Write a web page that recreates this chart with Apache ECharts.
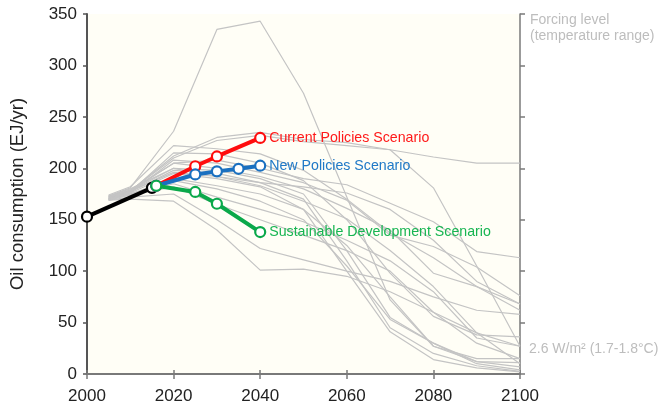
<!DOCTYPE html>
<html>
<head>
<meta charset="utf-8">
<script src="https://cdn.jsdelivr.net/npm/echarts@6/dist/echarts.min.js"></script>
<style>
  html, body { margin: 0; padding: 0; background: #ffffff; }
  #chart { width: 661px; height: 410px; }
</style>
</head>
<body>
<div id="chart"></div>
<script>
// Years at which the IAM pathways report oil consumption
const pathwayYears = [2005, 2010, 2020, 2030, 2040, 2050, 2060, 2070, 2080, 2090, 2100];

// 2.6 W/m² pathways (EJ/yr)
const pathway01 = [173, 181, 236, 335, 343, 273, 172, 72, 27, 12, 7];
const pathway02 = [170, 178, 212, 230, 235, 228, 225, 218, 211, 205, 205];
const pathway03 = [171, 178, 210, 227, 232, 226, 222, 218, 181, 105, 27];
const pathway04 = [174, 182, 222, 219, 214, 198, 170, 137, 113, 85, 62];
const pathway05 = [170, 177, 215, 214, 205, 188, 150, 98, 56, 38, 36];
const pathway06 = [172, 179, 205, 208, 200, 190, 184, 166, 148, 119, 113];
const pathway07 = [170, 176, 208, 205, 196, 186, 169, 135, 124, 104, 76];
const pathway08 = [173, 180, 200, 198, 190, 175, 120, 55, 30, 10, 4];
const pathway09 = [171, 177, 198, 195, 186, 170, 110, 45, 20, 8, 2.5];
const pathway10 = [170, 176, 195, 190, 182, 160, 100, 41, 14, 6, 2];
const pathway11 = [172, 178, 205, 200, 192, 180, 161, 140, 98, 85, 68];
const pathway12 = [173, 178, 200, 192, 183, 168, 151, 120, 85, 40, 10];
const pathway13 = [170, 175, 190, 183, 175, 160, 125, 75, 27, 15, 15];
const pathway14 = [171, 175, 188, 180, 168, 150, 105, 53, 30, 12, 11];
const pathway15 = [169, 174, 185, 172, 160, 148, 130, 110, 80, 35, 27];
const pathway16 = [170, 174, 182, 165, 150, 135, 120, 100, 60, 30, 15];
const pathway17 = [169, 172, 175, 150, 122, 111, 100, 90, 75, 62, 58];
const pathway18 = [169, 170, 168, 140, 101, 102, 95, 80, 60, 40, 27];
const pathway19 = [172, 178, 196, 192, 186, 182, 176, 160, 130, 90, 68];

const pathways = [
  pathway01, pathway02, pathway03, pathway04, pathway05, pathway06, pathway07,
  pathway08, pathway09, pathway10, pathway11, pathway12, pathway13, pathway14,
  pathway15, pathway16, pathway17, pathway18, pathway19
];

// Historical consumption and IEA WEO scenarios
const historyYears = [2000, 2015];
const historyValues = [153, 181];

const currentYears = [2016, 2025, 2030, 2040];
const currentValues = [183, 202, 211.5, 229.5];

const newYears = [2016, 2025, 2030, 2035, 2040];
const newValues = [183, 194, 197, 199.5, 202.5];

const sustainableYears = [2016, 2025, 2030, 2040];
const sustainableValues = [183, 177, 165.5, 138];

const xTicks = [2000, 2020, 2040, 2060, 2080, 2100];
const yTicks = [0, 50, 100, 150, 200, 250, 300, 350];

const FONT = '"Liberation Sans", Arial, sans-serif';
const zip = (xs, ys) => xs.map((x, i) => [x, ys[i]]);

const grayLine = p => ({
  type: 'line',
  data: zip(pathwayYears, p),
  symbol: 'none',
  silent: true,
  z: 1,
  lineStyle: { color: '#c4c4c4', width: 1.2 }
});

const scenario = (name, xs, ys, color, textColor, z) => ({
  type: 'line',
  name: name,
  data: zip(xs, ys),
  symbol: 'circle',
  symbolSize: 10,
  z: z,
  itemStyle: { color: '#ffffff', borderColor: color, borderWidth: 2.2 },
  lineStyle: { color: color, width: 4 },
  endLabel: name ? {
    show: true,
    formatter: name,
    color: textColor,
    fontSize: 14.2,
    fontFamily: FONT,
    distance: 9
  } : undefined
});

const chart = echarts.init(document.getElementById('chart'), null, { renderer: 'canvas' });

const axisColor = '#7a7a7a';

chart.setOption({
  animation: false,
  backgroundColor: '#ffffff',
  grid: {
    left: 86.7, right: 141, top: 14, bottom: 36,
    show: true, backgroundColor: '#fffef6', borderWidth: 0
  },
  xAxis: [
    {
      type: 'value', min: 2000, max: 2100, interval: 20,
      position: 'bottom',
      axisLine: { show: true, lineStyle: { color: axisColor, width: 2 } },
      axisTick: { show: true, length: 5, lineStyle: { color: axisColor, width: 1.5 } },
      axisLabel: {
        color: '#222', fontSize: 17, fontFamily: FONT, margin: 14,
        formatter: v => (xTicks.includes(v) ? String(v) : '')
      },
      splitLine: { show: false }
    },
    {
      type: 'value', min: 2000, max: 2100, interval: 20,
      position: 'top',
      axisLine: { show: true, lineStyle: { color: axisColor, width: 1.5 } },
      axisTick: { show: true, length: 4, lineStyle: { color: axisColor, width: 1.5 } },
      axisLabel: { show: false },
      splitLine: { show: false }
    }
  ],
  yAxis: [
    {
      type: 'value', min: 0, max: 350, interval: 50,
      position: 'left',
      name: 'Oil consumption (EJ/yr)',
      nameLocation: 'middle',
      nameGap: 60,
      nameTextStyle: { color: '#222', fontSize: 18.5, fontFamily: FONT },
      axisLine: { show: true, lineStyle: { color: '#555', width: 2 } },
      axisTick: { show: true, length: 4, lineStyle: { color: '#555', width: 1.5 } },
      axisLabel: {
        color: '#222', fontSize: 17, fontFamily: FONT, margin: 10,
        formatter: v => (yTicks.includes(v) ? String(v) : '')
      },
      splitLine: { show: false }
    },
    {
      type: 'value', min: 0, max: 350, interval: 50,
      position: 'right',
      axisLine: { show: true, lineStyle: { color: axisColor, width: 1.5 } },
      axisTick: { show: true, length: 5, lineStyle: { color: axisColor, width: 1.5 } },
      axisLabel: { show: false },
      splitLine: { show: false }
    }
  ],
  graphic: [
    {
      type: 'text', left: 530, top: 12,
      style: {
        text: 'Forcing level\n(temperature range)',
        fill: '#bdbdbd', fontSize: 14, fontFamily: FONT, lineHeight: 16
      }
    },
    {
      type: 'text', left: 529, top: 342,
      style: {
        text: '2.6 W/m² (1.7-1.8°C)',
        fill: '#bdbdbd', fontSize: 14, fontFamily: FONT
      }
    }
  ],
  series: [
    ...pathways.map(grayLine),
    scenario(null, historyYears, historyValues, '#000000', '#000', 5),
    scenario('Current Policies Scenario', currentYears, currentValues, '#ff0d0d', '#ff1a1a', 6),
    scenario('New Policies Scenario', newYears, newValues, '#1a70c0', '#2079c7', 7),
    scenario('Sustainable Development Scenario', sustainableYears, sustainableValues, '#0aa84a', '#17b552', 8)
  ]
});
</script>
</body>
</html>
